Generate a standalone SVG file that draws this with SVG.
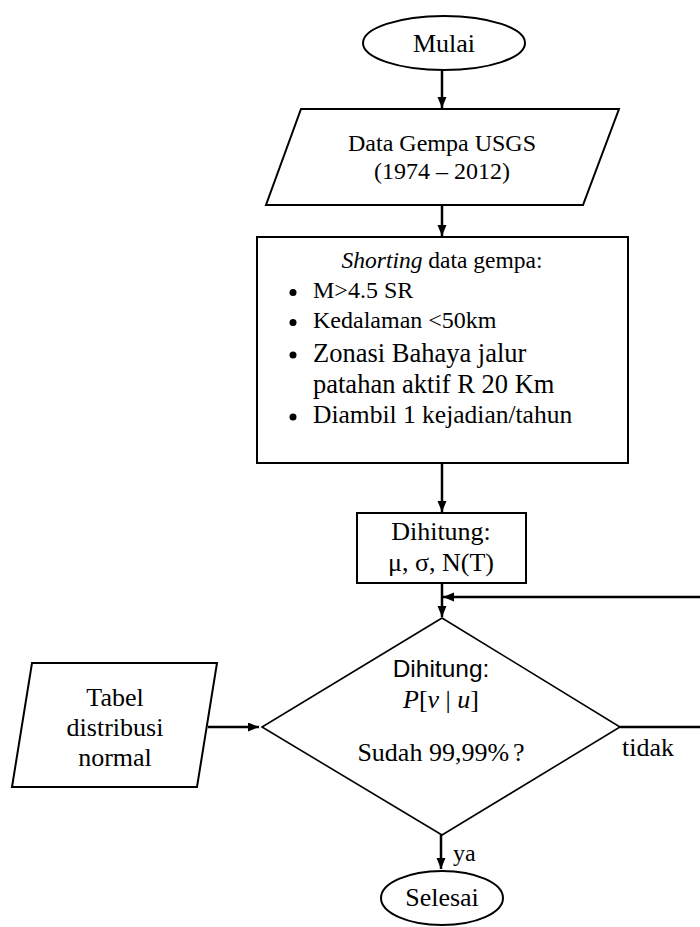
<svg xmlns="http://www.w3.org/2000/svg" width="700" height="927" viewBox="0 0 700 927">
<style>
.shape{fill:#fff;stroke:#000;stroke-width:2}
.thin{fill:#fff;stroke:#000;stroke-width:1.6}
.conn{fill:none;stroke:#000;stroke-width:2.5}
.t{font-family:"Liberation Serif","Times New Roman",serif;fill:#000}
.s{font-family:"Liberation Sans",Arial,sans-serif;fill:#000}
.c{text-anchor:middle}
.i{font-style:italic}
</style>
<defs>
<marker id="ah" markerUnits="userSpaceOnUse" markerWidth="12" markerHeight="10" refX="11" refY="4.5" orient="auto">
<path d="M0,0 L11,4.5 L0,9 Z" fill="#000"/>
</marker>
</defs>
<rect width="700" height="927" fill="#fff"/>
<g id="connectors">
<path class="conn" d="M442,71 V108" marker-end="url(#ah)"/>
<path class="conn" d="M442,205 V236" marker-end="url(#ah)"/>
<path class="conn" d="M442,463 V512" marker-end="url(#ah)"/>
<path class="conn" d="M442,583 V617" marker-end="url(#ah)"/>
<path class="conn" d="M620,727 H702 V597 H443" marker-end="url(#ah)"/>
<path class="conn" d="M208,727 H259" marker-end="url(#ah)"/>
<path class="conn" d="M441,834 V869" marker-end="url(#ah)"/>
<text class="t" x="622" y="756" font-size="26">tidak</text>
<text class="t" x="453" y="861" font-size="24">ya</text>
</g>
<g id="mulai">
<ellipse class="shape" cx="444" cy="43" rx="81" ry="27"/>
<text class="t c" x="444" y="52" font-size="26">Mulai</text>
</g>
<g id="data-gempa">
<path class="shape" d="M301,109 H619 L583,205 H266 Z"/>
<text class="t c" x="442" y="151" font-size="24">Data Gempa USGS</text>
<text class="t c" x="442" y="179" font-size="24">(1974 – 2012)</text>
</g>
<g id="shorting">
<rect class="shape" x="257" y="237" width="371" height="226"/>
<text class="t c" x="442" y="268" font-size="23.5"><tspan class="i">Shorting</tspan> data gempa:</text>
<circle cx="293" cy="292.5" r="3.5"/>
<text class="t" x="313" y="298" font-size="24">M&gt;4.5 SR</text>
<circle cx="293" cy="322.5" r="3.5"/>
<text class="t" x="313" y="328" font-size="24">Kedalaman &lt;50km</text>
<circle cx="293" cy="355" r="3.5"/>
<text class="t" x="313" y="362" font-size="26.5">Zonasi Bahaya jalur</text>
<text class="t" x="313" y="393" font-size="26.5">patahan aktif R 20 Km</text>
<circle cx="293" cy="417" r="3.5"/>
<text class="t" x="313" y="423" font-size="25.5">Diambil 1 kejadian/tahun</text>
</g>
<g id="dihitung-stat">
<rect class="shape" x="357" y="513" width="169" height="70"/>
<text class="t c" x="441" y="540" font-size="26">Dihitung:</text>
<text class="t c" x="441" y="571" font-size="26">μ, σ, N(T)</text>
</g>
<g id="tabel">
<path class="shape" d="M32,663 H217 L197,787 H12 Z"/>
<text class="t c" x="115" y="706" font-size="26">Tabel</text>
<text class="t c" x="115" y="736" font-size="26">distribusi</text>
<text class="t c" x="115" y="766" font-size="26">normal</text>
</g>
<g id="keputusan">
<path class="thin" d="M442,618 L620,727 L442,835 L262,727 Z"/>
<text class="s c" x="441" y="677" font-size="24.5">Dihitung:</text>
<text class="t c" x="441" y="708" font-size="26"><tspan class="i">P</tspan>[<tspan class="i">v</tspan> | <tspan class="i">u</tspan>]</text>
<text class="t c" x="441" y="761" font-size="26">Sudah 99,99%<tspan dx="4">?</tspan></text>
</g>
<g id="selesai">
<ellipse class="shape" cx="442" cy="898" rx="61" ry="27"/>
<text class="t c" x="442" y="906" font-size="26">Selesai</text>
</g>
</svg>
